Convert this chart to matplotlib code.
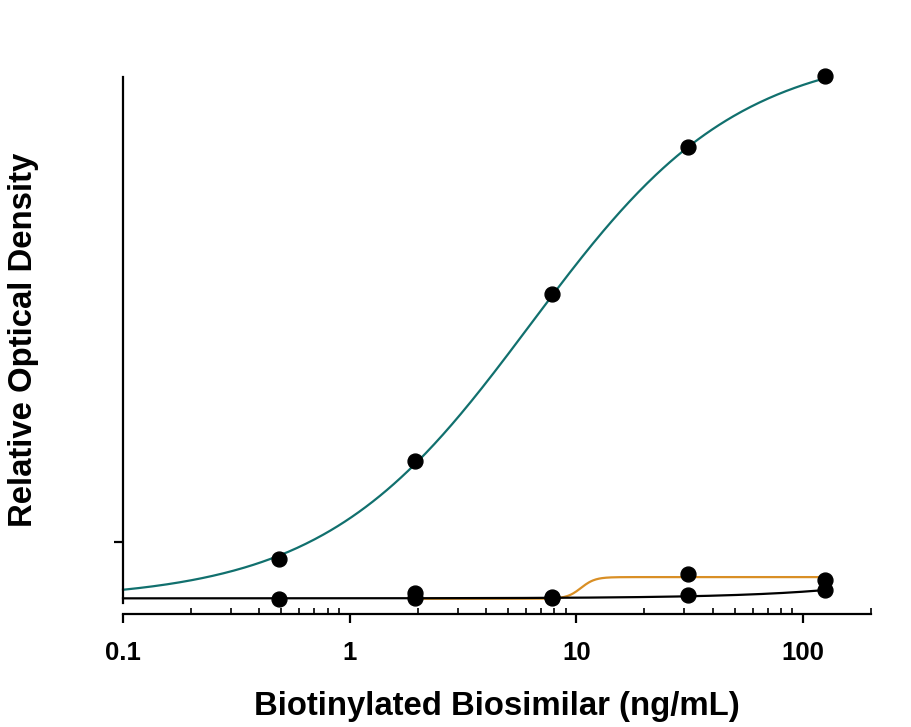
import numpy as np
import matplotlib
matplotlib.use("Agg")
import matplotlib.pyplot as plt
from matplotlib.ticker import LogLocator, NullFormatter, FixedLocator

plt.rcParams['font.family'] = ['Liberation Sans', 'DejaVu Sans']

# concentrations (ng/mL)
conc = [0.488, 1.95, 7.81, 31.25, 125]
# positive series (teal fit)
pos_y = [0.370, 1.108, 2.365, 3.472, 4.005]
# control series A (orange fit)
ctrlA_x = [1.95, 7.81, 31.25, 125]
ctrlA_y = [0.114, 0.084, 0.257, 0.212]
# control series B (black fit)
ctrlB_y = [0.069, 0.076, 0.076, 0.099, 0.136]

# fit parameters (4PL: bottom, top, ec50, hill)
pos_fit = (0.06, 4.22, 6.3, 0.95)
ctrlA_fit = (0.072, 0.235, 10.5, 14.0)
ctrlB_fit = (0.075, 0.0005)  # linear intercept, slope

x_ticks = [0.1, 1, 10, 100]
x_ticklabels = ["0.1", "1", "10", "100"]

def fourpl(x, a, d, c, b):
    return d + (a - d) / (1.0 + (x / c) ** b)

W, H = 911, 727
fig = plt.figure(figsize=(W/100, H/100), dpi=100)
ax = fig.add_axes([123/W, 1 - 603/H, (871-123)/W, (603-77)/H])

teal = "#11706e"
orange = "#d98f25"

xs = np.logspace(-1, np.log10(125), 400)
ax.plot(xs, fourpl(xs, *pos_fit), color=teal, lw=1.6, zorder=2, clip_on=False)
xa = np.logspace(np.log10(1.95), np.log10(125), 400)
ax.plot(xa, fourpl(xa, *ctrlA_fit), color=orange, lw=1.6, zorder=2, clip_on=False)
ax.plot(xs, ctrlB_fit[0] + ctrlB_fit[1] * xs, color="black", lw=1.6, zorder=2, clip_on=False)

ms = 10.7
ax.plot(conc, pos_y, 'o', color='black', ms=ms, zorder=3, clip_on=False)
ax.plot(ctrlA_x, ctrlA_y, 'o', color='black', ms=ms, zorder=3, clip_on=False)
ax.plot(conc, ctrlB_y, 'o', color='black', ms=ms, zorder=3, clip_on=False)

ax.set_xscale('log')
ax.set_xlim(0.1, 200)
ax.set_ylim(0.04, 4.0)

for s in ['top', 'right']:
    ax.spines[s].set_visible(False)
ax.spines['bottom'].set_position(('outward', 8))
ax.spines['left'].set_linewidth(1.6)
ax.spines['bottom'].set_linewidth(1.6)

ax.xaxis.set_major_locator(FixedLocator(x_ticks))
ax.set_xticklabels(x_ticklabels, fontsize=18.5, fontweight='bold')
ax.xaxis.set_minor_locator(LogLocator(base=10, subs=np.arange(2, 10), numticks=20))
ax.xaxis.set_minor_formatter(NullFormatter())
ax.tick_params(axis='x', which='major', direction='out', length=6.5, width=1.6, pad=13)
ax.tick_params(axis='x', which='minor', direction='in', length=4, width=1.2)

ax.set_yticks([0.5])
ax.set_yticklabels([])
ax.tick_params(axis='y', which='major', direction='out', length=6.5, width=1.6)

fig.text(496.5/W, 1 - 715/H, "Biotinylated Biosimilar (ng/mL)", fontsize=23.7,
         fontweight='bold', ha='center', va='baseline')
fig.text(24/W, 1 - 339.5/H, "Relative Optical Density", fontsize=23.7,
         fontweight='bold', ha='center', va='center', rotation=90,
         rotation_mode='anchor')

fig.savefig("out.png", dpi=100)
